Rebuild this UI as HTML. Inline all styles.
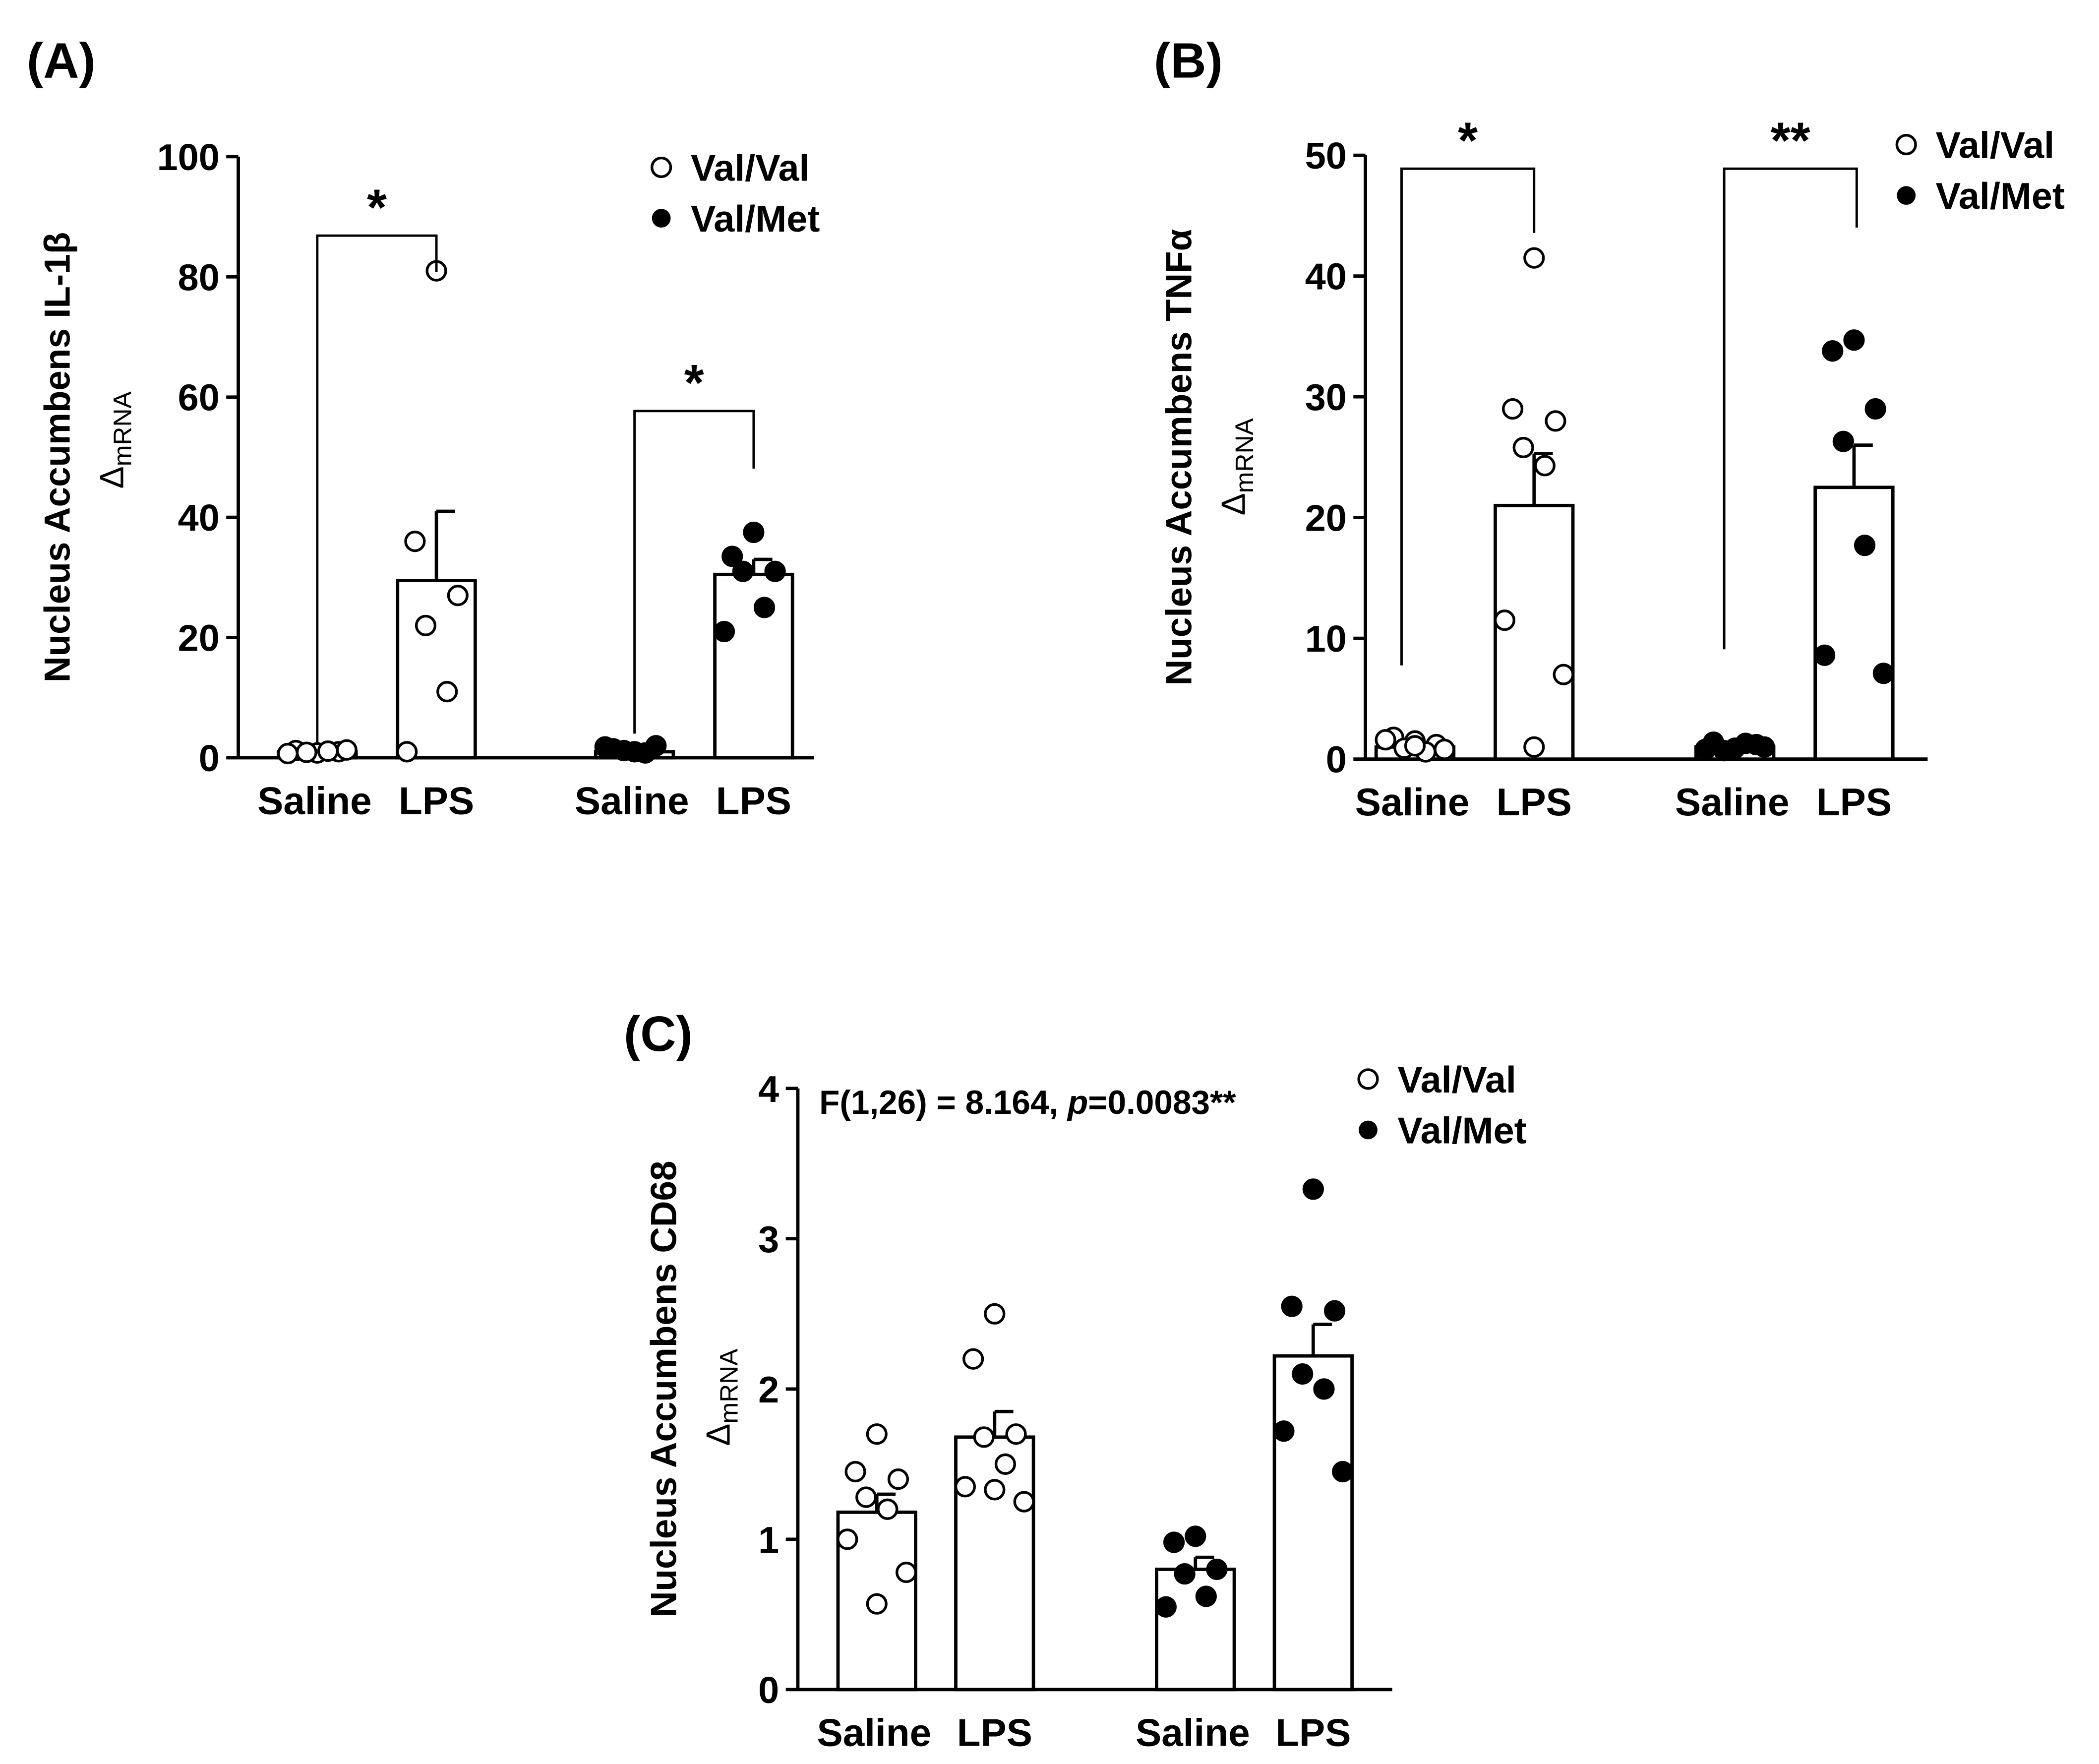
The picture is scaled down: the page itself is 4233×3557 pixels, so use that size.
<!DOCTYPE html>
<html><head><meta charset="utf-8"><style>html,body{margin:0;padding:0;background:#fff}svg{display:block}text{font-family:"Liberation Sans",Arial,sans-serif;font-weight:bold;fill:#000}</style></head>
<body>
<svg id="fig" xmlns="http://www.w3.org/2000/svg" width="4233" height="3557" viewBox="0 0 1568 1317.6"></svg>
<script>
const categories = ["Saline","LPS","Saline","LPS"];
const aMeans = [1, 29.5, 1, 30.5];
const aErrTop = [1.2, 41, 1.4, 33];
const aPoints = [[0.8,1.2,1,0.9,1.1,0.7,1.3],[81,36,27,22,11,1],[1,1.5,2,1.2,0.8,1.8],[37.5,33.5,31,31,25,21]];
const aTicks = [0,20,40,60,80,100];
const bMeans = [1, 21, 1, 22.5];
const bErrTop = [1.2, 25.3, 1.1, 26];
const bPoints = [[1.5,1.8,1.2,0.9,0.6,1.6,0.8,1.1],[41.5,29,28,25.8,24.3,11.5,7,1],[0.9,1.4,1.2,0.7,1.3,0.8,1],[34.7,33.8,29,26.3,17.7,8.6,7.1]];
const bTicks = [0,10,20,30,40,50];
const cMeans = [1.18, 1.68, 0.8, 2.22];
const cErrTop = [1.3, 1.85, 0.88, 2.43];
const cPoints = [[1.7,1.45,1.4,1.28,1.2,1.0,0.78,0.57],[2.5,2.2,1.7,1.68,1.5,1.35,1.25,1.33],[1.02,0.98,0.8,0.77,0.62,0.55],[3.33,2.55,2.52,2.1,2.0,1.72,1.45]];
const cTicks = [0,1,2,3,4];
const NS="http://www.w3.org/2000/svg";
const svg=document.getElementById('fig');
function el(tag,attrs,parent,txt){const e=document.createElementNS(NS,tag);for(const k in attrs)e.setAttribute(k,attrs[k]);if(txt!==undefined)e.textContent=txt;(parent||svg).appendChild(e);return e;}
const jit=[0,-16,16,-8,8,-22,22,0];
function panel(cfg){
  const g=el('g',{});
  
  
  const y=v=>cfg.y0-(v/cfg.max)*(cfg.y0-cfg.yTop);
  const ax=el('line',{x1:cfg.x0,y1:cfg.yTop,x2:cfg.x0,y2:cfg.y0,stroke:'#000','stroke-width':2.5},g);
  
  const xa=el('line',{x1:cfg.x0,y1:cfg.y0,x2:cfg.xEnd,y2:cfg.y0,stroke:'#000','stroke-width':2.5},g);
  
  cfg.ticks.forEach(t=>{
    el('line',{x1:cfg.x0-9,y1:y(t),x2:cfg.x0,y2:y(t),stroke:'#000','stroke-width':2.5},g);
    const tl=el('text',{x:cfg.x0-14,y:y(t)+10,'text-anchor':'end','font-size':28},g,t);
    
  });
  cfg.xs.forEach((cx,i)=>{
    const top=y(cfg.means[i]);
    const b=el('rect',{x:cx-29,y:top,width:58,height:cfg.y0-top,fill:'#fff',stroke:'#000','stroke-width':2.5},g);
    
    
    const et=y(cfg.errTop[i]);
    el('line',{x1:cx,y1:top,x2:cx,y2:et,stroke:'#000','stroke-width':2.5},g);
    el('line',{x1:cx,y1:et,x2:cx+14,y2:et,stroke:'#000','stroke-width':2.5},g);
    const pts=cfg.points[i];
    pts.forEach((v,j)=>{
      const dx=jit[j%jit.length];
      const c=el('circle',{cx:cx+dx,cy:y(v),r:7,fill:i<2?'#fff':'#000',stroke:'#000','stroke-width':2},g);
      
    });
    const xl=el('text',{x:cx+(i%2?0:-2),y:cfg.y0+42,'text-anchor':'middle','font-size':29},g,categories[i]);
    
  });
  const yt=el('text',{transform:`translate(${cfg.titleX},${(cfg.yTop+cfg.y0)/2}) rotate(-90)`,'text-anchor':'middle','font-size':27},g,cfg.title);
  
  const ys=el('text',{transform:`translate(${cfg.titleX+40},${cfg.subY}) rotate(-90)`,'font-size':25,'font-weight':'normal'},g);
  
  el('tspan',{'font-weight':'normal'},ys,'Δ');
  el('tspan',{'font-size':19,'font-weight':'normal',dy:6},ys,'mRNA');
  const lab=el('text',{x:cfg.labX,y:cfg.labY,'font-size':37},g,cfg.label);
  
  const lg=el('g',{},g);
  el('circle',{cx:cfg.legX,cy:cfg.legY,r:7,fill:'#fff',stroke:'#000','stroke-width':2},lg);
  el('text',{x:cfg.legX+22,y:cfg.legY+10,'font-size':28},lg,'Val/Val');
  el('circle',{cx:cfg.legX,cy:cfg.legY+38,r:7,fill:'#000'},lg);
  el('text',{x:cfg.legX+22,y:cfg.legY+48,'font-size':28},lg,'Val/Met');
  (cfg.brackets||[]).forEach(br=>{
    const bg=el('g',{},g);
    el('polyline',{points:`${br[0]},${br[2]} ${br[0]},${br[4]} ${br[1]},${br[4]} ${br[1]},${br[3]}`,fill:'none',stroke:'#000','stroke-width':1.8},bg);
    el('text',{x:(br[0]+br[1])/2,y:br[4]-8,'text-anchor':'middle','font-size':38},bg,br[5]);
  });
  return {g,y};
}
panel({name:'panel-a',x0:178,xEnd:608,y0:566,yTop:117,max:100,ticks:aTicks,xs:[237,326,474,563],means:aMeans,errTop:aErrTop,points:aPoints,
 title:'Nucleus Accumbens IL-1β',titleX:52,subY:365,label:'(A)',labX:20,labY:58,legX:494,legY:125,
 brackets:[[237,326,556,203,176,'*'],[474,563,548,350,307,'*']]});
panel({name:'panel-b',x0:1020,xEnd:1440,y0:567,yTop:116,max:50,ticks:bTicks,xs:[1057,1146,1296,1385],means:bMeans,errTop:bErrTop,points:bPoints,
 title:'Nucleus Accumbens TNFα',titleX:890,subY:385,label:'(B)',labX:862,labY:58,legX:1424,legY:108,
 brackets:[[1047,1146,497,174,126,'*'],[1288,1387,485,170,126,'**']]});
const pc=panel({name:'panel-c',x0:596,xEnd:1040,y0:1262,yTop:813,max:4,ticks:cTicks,xs:[655,743,893,981],means:cMeans,errTop:cErrTop,points:cPoints,
 title:'Nucleus Accumbens CD68',titleX:505,subY:1080,label:'(C)',labX:466,labY:785,legX:1022,legY:806});
const st=el('text',{x:612,y:832,'font-size':25},pc.g);

el('tspan',{},st,'F(1,26) = 8.164, ');
el('tspan',{'font-style':'italic'},st,'p');
el('tspan',{},st,'=0.0083**');
</script>
</body></html>
